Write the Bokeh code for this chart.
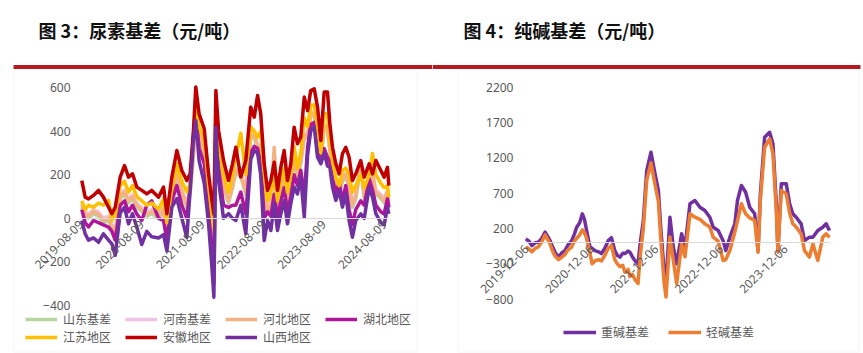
import math
import pandas as pd
from bokeh.plotting import figure
from bokeh.models import (Range1d, FixedTicker, DatetimeTickFormatter, Label,
                          BoxAnnotation, Legend, LegendItem, LinearAxis, DatetimeAxis)
from bokeh.core.properties import value
from bokeh.layouts import row
from bokeh.embed import file_html
from bokeh.resources import INLINE

# ---------------- data: urea basis (yuan/ton) ----------------
urea_dates = ["2019-08-14", "2019-09-03", "2019-09-23", "2019-10-23", "2019-11-22", "2019-12-22",
              "2020-01-22", "2020-02-11", "2020-03-02", "2020-04-01", "2020-04-27", "2020-05-21",
              "2020-06-14", "2020-07-10", "2020-08-09", "2020-09-08", "2020-10-08", "2020-11-18",
              "2020-12-18", "2021-01-07", "2021-02-06", "2021-03-08", "2021-04-07", "2021-05-07",
              "2021-05-27", "2021-06-16", "2021-06-30", "2021-07-20", "2021-08-20", "2021-09-15",
              "2021-10-05", "2021-10-17", "2021-10-29", "2021-11-14", "2021-12-14", "2022-01-13",
              "2022-02-06", "2022-02-26", "2022-03-28", "2022-04-27", "2022-05-27", "2022-06-17",
              "2022-07-07", "2022-07-26", "2022-08-16", "2022-09-05", "2022-09-25", "2022-10-15",
              "2022-11-04", "2022-11-24", "2022-12-14", "2023-01-03", "2023-01-23", "2023-02-12",
              "2023-03-04", "2023-03-24", "2023-04-14", "2023-05-04", "2023-05-23", "2023-06-13",
              "2023-07-03", "2023-07-23", "2023-08-12", "2023-09-01", "2023-09-15", "2023-10-01",
              "2023-10-21", "2023-11-10", "2023-11-30", "2023-12-20", "2024-01-09", "2024-01-29",
              "2024-02-18", "2024-03-19", "2024-04-09", "2024-05-09", "2024-05-29", "2024-06-18",
              "2024-07-18", "2024-08-07", "2024-08-27", "2024-09-04"]
urea_shandong = [50, 10, 0, 20, 10, -20, -10, -50, -70, 90, 110, 70, 90, 50, 30, 10, 20, 0, 30, -90,
                 90, 190, 110, 50, 110, 290, 490, 370, 290, 90, -50, -160, 470, 290, 140, 70, 140, 210, 190, 110,
                 370, 370, 320, 320, 110, 30, 50, 300, 30, 110, 170, 50, 140, 270, 190, 250, 370, 370, 470, 470,
                 350, 270, 410, 410, 310, 210, 140, 110, 170, 190, 140, 50, 90, 230, 90, 160, 190, 110, 90, 70,
                 110, 50]
urea_henan = [70, 30, 20, 40, 30, 0, 10, -30, -50, 110, 130, 90, 110, 70, 50, 30, 40, 20, 50, -70,
              110, 210, 130, 70, 130, 310, 510, 390, 310, 110, -30, -140, 490, 310, 160, 90, 160, 230, 210, 130,
              390, 390, 340, 340, 130, 50, 70, 280, 50, 130, 190, 70, 160, 290, 210, 270, 390, 390, 490, 490,
              370, 290, 430, 430, 330, 230, 160, 130, 190, 210, 160, 70, 110, 240, 110, 180, 210, 130, 110, 90,
              130, 70]
urea_hebei = [60, 20, 10, 30, 20, -10, 0, -40, -60, 100, 120, 80, 100, 60, 40, 20, 30, 10, 40, -80,
              100, 200, 120, 60, 120, 300, 500, 380, 300, 100, -40, -150, 480, 300, 150, 80, 150, 220, 200, 120,
              380, 380, 330, 330, 120, 40, 60, 326, 40, 120, 180, 60, 150, 280, 200, 260, 380, 380, 480, 480,
              360, 280, 420, 420, 320, 220, 150, 120, 180, 200, 150, 60, 100, 250, 100, 170, 200, 120, 100, 80,
              120, 60]
urea_hubei = [40, -20, -40, -10, -20, -30, -40, -60, -100, 60, 80, 30, 60, 20, -10, 60, 80, 0, -10, -100,
              80, 150, 60, 0, 150, 380, 480, 320, 250, 40, -150, -300, 440, 230, 60, 50, 60, 60, 120, 20,
              300, 330, 320, 250, 0, 30, 10, 110, 0, 80, 140, 30, 100, 200, 150, 220, 97, 326, 430, 440,
              300, 280, 320, 280, 260, 180, 120, 160, 82, 150, 40, -30, 40, 80, 60, 180, 130, 60, 30, 20,
              90, 50]
urea_jiangsu = [80, 40, 60, 50, 70, 60, 82, -10, 20, 150, 170, 120, 150, 100, 80, 60, 70, 40, 90, -20,
                140, 250, 170, 120, 160, 350, 550, 420, 360, 150, 20, -50, 520, 350, 200, 120, 200, 280, 390, 200,
                420, 400, 372, 400, 200, 80, 120, 200, 80, 170, 230, 120, 200, 330, 230, 300, 460, 420, 520, 520,
                420, 300, 480, 480, 360, 260, 190, 150, 220, 230, 200, 120, 150, 200, 140, 200, 297, 200, 160, 140,
                150, 97]
urea_anhui = [173, 97, 89, 105, 128, 97, 51, 21, 51, 189, 242, 189, 204, 143, 128, 112, 128, 97, 143, 21,
              189, 311, 219, 173, 204, 403, 602, 479, 410, 204, 82, 20, 586, 403, 265, 173, 250, 326, 189, 265,
              510, 464, 563, 479, 250, 128, 173, 257, 128, 234, 311, 173, 250, 418, 342, 372, 556, 494, 586, 594,
              510, 357, 579, 579, 434, 326, 250, 204, 296, 326, 280, 173, 204, 265, 189, 250, 204, 265, 219, 189,
              234, 150]
urea_shanxi = [-10, -71, -100, -90, -110, -71, -100, -117, -170, 25, 50, -25, 21, -41, -120, -60, -85, -90, -75, -150,
               51, 90, 0, -87, 128, 357, 449, 265, 160, -25, -224, -362, 418, 173, 0, 21, 0, -10, 60, -71,
               270, 310, 300, 200, -102, -10, -56, 67, -56, 21, 82, -25, 67, 143, 112, 189, 5, 290, 400, 420,
               280, 250, 300, 240, 234, 143, 82, 128, 51, 112, -10, -87, -10, 20, 0, 143, 97, 21, -20, -30,
               51, 20]
urea_names = ["山东基差", "河南基差", "河北地区", "湖北地区", "江苏地区", "安徽地区", "山西地区"]
urea_colors = ["#b5d69c", "#f0c2e4", "#f4b183", "#b0169a", "#ffc000", "#c00000", "#7030a0"]
urea_xticks = ["2019-08-09", "2020-08-09", "2021-08-09", "2022-08-09", "2023-08-09", "2024-08-09"]
urea_yticks = [-400, -200, 0, 200, 400, 600]

# ---------------- data: soda ash basis (yuan/ton) ----------------
soda_dates = ["2019-12-02", "2019-12-20", "2020-01-05", "2020-01-25", "2020-02-11", "2020-03-01",
              "2020-03-20", "2020-04-05", "2020-04-17", "2020-05-01", "2020-05-15", "2020-06-03",
              "2020-06-20", "2020-07-10", "2020-07-25", "2020-08-17", "2020-09-01", "2020-09-14",
              "2020-10-01", "2020-10-16", "2020-10-28", "2020-11-09", "2020-11-28", "2020-12-10",
              "2020-12-26", "2021-01-15", "2021-02-01", "2021-02-20", "2021-03-11", "2021-03-29",
              "2021-04-17", "2021-05-01", "2021-05-16", "2021-06-01", "2021-06-13", "2021-07-01",
              "2021-07-11", "2021-07-25", "2021-08-08", "2021-08-26", "2021-09-07", "2021-09-25",
              "2021-10-14", "2021-11-07", "2021-11-30", "2021-12-19", "2022-01-01", "2022-01-20",
              "2022-01-31", "2022-02-22", "2022-03-13", "2022-04-01", "2022-04-29", "2022-05-18",
              "2022-06-15", "2022-07-13", "2022-08-10", "2022-09-07", "2022-10-05", "2022-10-24",
              "2022-11-21", "2022-12-19", "2023-01-03", "2023-01-26", "2023-02-23", "2023-03-10",
              "2023-04-01", "2023-04-25", "2023-05-18", "2023-06-15", "2023-07-04", "2023-07-17",
              "2023-08-10", "2023-09-07", "2023-09-26", "2023-10-15", "2023-10-24", "2023-11-12",
              "2023-12-10", "2023-12-29", "2024-01-16", "2024-02-04", "2024-03-03", "2024-03-22",
              "2024-04-19", "2024-05-08", "2024-06-05", "2024-07-03", "2024-07-22", "2024-08-10"]
soda_heavy = [54, 20, -42, 0, 5, 60, 148, 80, 28, -60, -135, -206, -150, -113, -40, 28, 120, 218,
              280, 408, 330, 172, -64, -80, -113, -130, -155, -80, 28, 70, -113, -180, -206, -150,
              -155, -120, -135, -200, -253, -300, -17, 313, 1021, 1280, 974, 738, 218, -395, -583, 360,
              -64, -300, 125, -64, 550, 596, 501, 455, 360, 218, 172, 28, -113, 77, 266, 596, 809, 714,
              501, 408, -113, 691, 1493, 1563, 1399, 550, -113, 833, 833, 550, 408, 360, 266, 28, 77, 77,
              172, 218, 266, 172]
soda_light = [-60, -90, -130, -80, -60, 10, 110, 40, -20, -120, -190, -240, -210, -170, -110, -60, 20, 60,
              110, 180, 140, 60, -150, -300, -260, -240, -260, -180, -80, -40, -240, -300, -340, -320,
              -420, -380, -480, -450, -520, -580, -200, 200, 880, 1130, 820, 580, 60, -560, -770, 80,
              -250, -580, -17, -200, 408, 360, 330, 266, 220, 77, 20, -253, -240, -113, 150, 313, 550, 408,
              350, 313, -136, 600, 1351, 1469, 1257, 450, -136, 738, 691, 420, 266, 220, 125, -113, -206, -17,
              -253, 77, 125, 77]
soda_names = ["重碱基差", "轻碱基差"]
soda_colors = ["#7030a0", "#ed7d31"]
soda_xticks = ["2019-12-06", "2020-12-06", "2021-12-06", "2022-12-06", "2023-12-06"]
soda_yticks = [-800, -300, 200, 700, 1200, 1700, 2200]

# ---------------- helpers ----------------
H = 353
DAY = 86400000.0
CJK = "Noto Sans CJK SC"
GRAY = "#595959"
FMT = "%Y-%m-%d"


def ms(s):
    return pd.Timestamp(s).value / 1e6


def panel(width, x_date, x_px, days_px, y_val, y_px, val_px):
    x0 = ms(x_date) - x_px * days_px * DAY
    x1 = x0 + width * days_px * DAY
    ytop = y_val + y_px * val_px
    ybot = ytop - H * val_px
    p = figure(width=width, height=H, x_range=Range1d(x0, x1), y_range=Range1d(ybot, ytop),
               x_axis_type=None, y_axis_type=None, toolbar_location=None,
               output_backend="svg", min_border=0, title=None)
    p.outline_line_color = None
    p.background_fill_color = "white"
    p.border_fill_color = "white"

    def X(px):
        return x0 + px * days_px * DAY

    def Y(py):
        return ytop - py * val_px
    return p, X, Y


def add_axes(p, X, xticks, xbounds, yticks, ybounds, yaxis_px):
    fmt = DatetimeTickFormatter(microseconds=FMT, milliseconds=FMT, seconds=FMT, minsec=FMT,
                                minutes=FMT, hourmin=FMT, hours=FMT, days=FMT, months=FMT, years=FMT)
    xa = DatetimeAxis(fixed_location=0, ticker=FixedTicker(ticks=[ms(t) for t in xticks]),
                      formatter=fmt, bounds=(ms(xbounds[0]), ms(xbounds[1])),
                      axis_line_color="#d9d9d9", axis_line_width=1,
                      major_tick_line_color=None, minor_tick_line_color=None,
                      major_tick_in=0, major_tick_out=0, minor_tick_in=0, minor_tick_out=0,
                      major_label_orientation=math.pi / 4, major_label_standoff=4,
                      major_label_text_font="Noto Sans", major_label_text_font_size="12px",
                      major_label_text_color=GRAY)
    p.add_layout(xa, "below")
    ya = LinearAxis(fixed_location=X(yaxis_px), ticker=FixedTicker(ticks=yticks), bounds=ybounds,
                    axis_line_color=None, major_tick_line_color=None, minor_tick_line_color=None,
                    major_tick_in=0, major_tick_out=0, minor_tick_in=0, minor_tick_out=0,
                    major_label_standoff=5, major_label_text_font="Noto Sans",
                    major_label_text_font_size="12px", major_label_text_color=GRAY)
    p.add_layout(ya, "left")


def decorate(p, X, Y, title, title_px, red_l, red_r, box_l, box_r):
    p.add_layout(BoxAnnotation(left=X(red_l), right=X(red_r), top=Y(64.5), bottom=Y(68.5),
                               fill_color="#b51a20", fill_alpha=1, line_color=None))
    p.add_layout(BoxAnnotation(left=X(box_l), right=X(box_r), top=Y(69.5), bottom=Y(351.5),
                               fill_alpha=0, fill_color=None, line_color="#d9d9d9", line_width=1))
    p.add_layout(Label(x=X(title_px), y=Y(29), text=title, text_baseline="middle",
                       text_font=CJK, text_font_style="bold", text_font_size="18px",
                       text_color="#111111"))


def make_legend(p, items, loc, glyph_w, standoff, spacing):
    leg = Legend(items=items, orientation="horizontal", location=loc,
                 glyph_width=glyph_w, glyph_height=12, label_standoff=standoff, spacing=spacing,
                 padding=0, margin=0, border_line_color=None, background_fill_alpha=0,
                 label_text_font=CJK, label_text_font_size="12px", label_text_color=GRAY,
                 label_height=12)
    p.add_layout(leg)


# ---------------- left panel: urea ----------------
pl, XL, YL = panel(432, "2019-08-09", 80.5, 6.02, 600, 87, 1000 / 218)
decorate(pl, XL, YL, "图 3：尿素基差（元/吨）", 38, 13, 432, 13.5, 416.5)
add_axes(pl, XL, urea_xticks, (urea_dates[0], urea_dates[-1]), urea_yticks, (-400, 600), 75)
udates = pd.to_datetime(urea_dates)
urea_series = [urea_shandong, urea_henan, urea_hebei, urea_hubei, urea_jiangsu, urea_anhui, urea_shanxi]
urea_r = []
for vals, col in zip(urea_series, urea_colors):
    urea_r.append(pl.line(udates, vals, line_color=col, line_width=3.5, line_join="round"))
items = [LegendItem(label=value(n), renderers=[r]) for n, r in zip(urea_names, urea_r)]
make_legend(pl, items[:4], (25, 26), 32, 6, 14)
make_legend(pl, items[4:], (25, 8), 32, 6, 14)

# ---------------- right panel: soda ash ----------------
pr, XR, YR = panel(431, "2019-12-06", 94, 5.64, 200, 228, 500 / 35.3)
decorate(pr, XR, YR, "图 4：纯碱基差（元/吨）", 31, 0, 428, 25.5, 426.5)
add_axes(pr, XR, soda_xticks, (soda_dates[0], soda_dates[-1]), soda_yticks, (-800, 2200), 86)
sdates = pd.to_datetime(soda_dates)
soda_r = []
for vals, col in zip([soda_heavy, soda_light], soda_colors):
    soda_r.append(pr.line(sdates, vals, line_color=col, line_width=3.5, line_join="round"))
sitems = [LegendItem(label=value(n), renderers=[r]) for n, r in zip(soda_names, soda_r)]
make_legend(pr, sitems, (131, 13), 33, 5, 19)

layout = row(pl, pr)
open("out.html", "w").write(file_html(layout, INLINE))
